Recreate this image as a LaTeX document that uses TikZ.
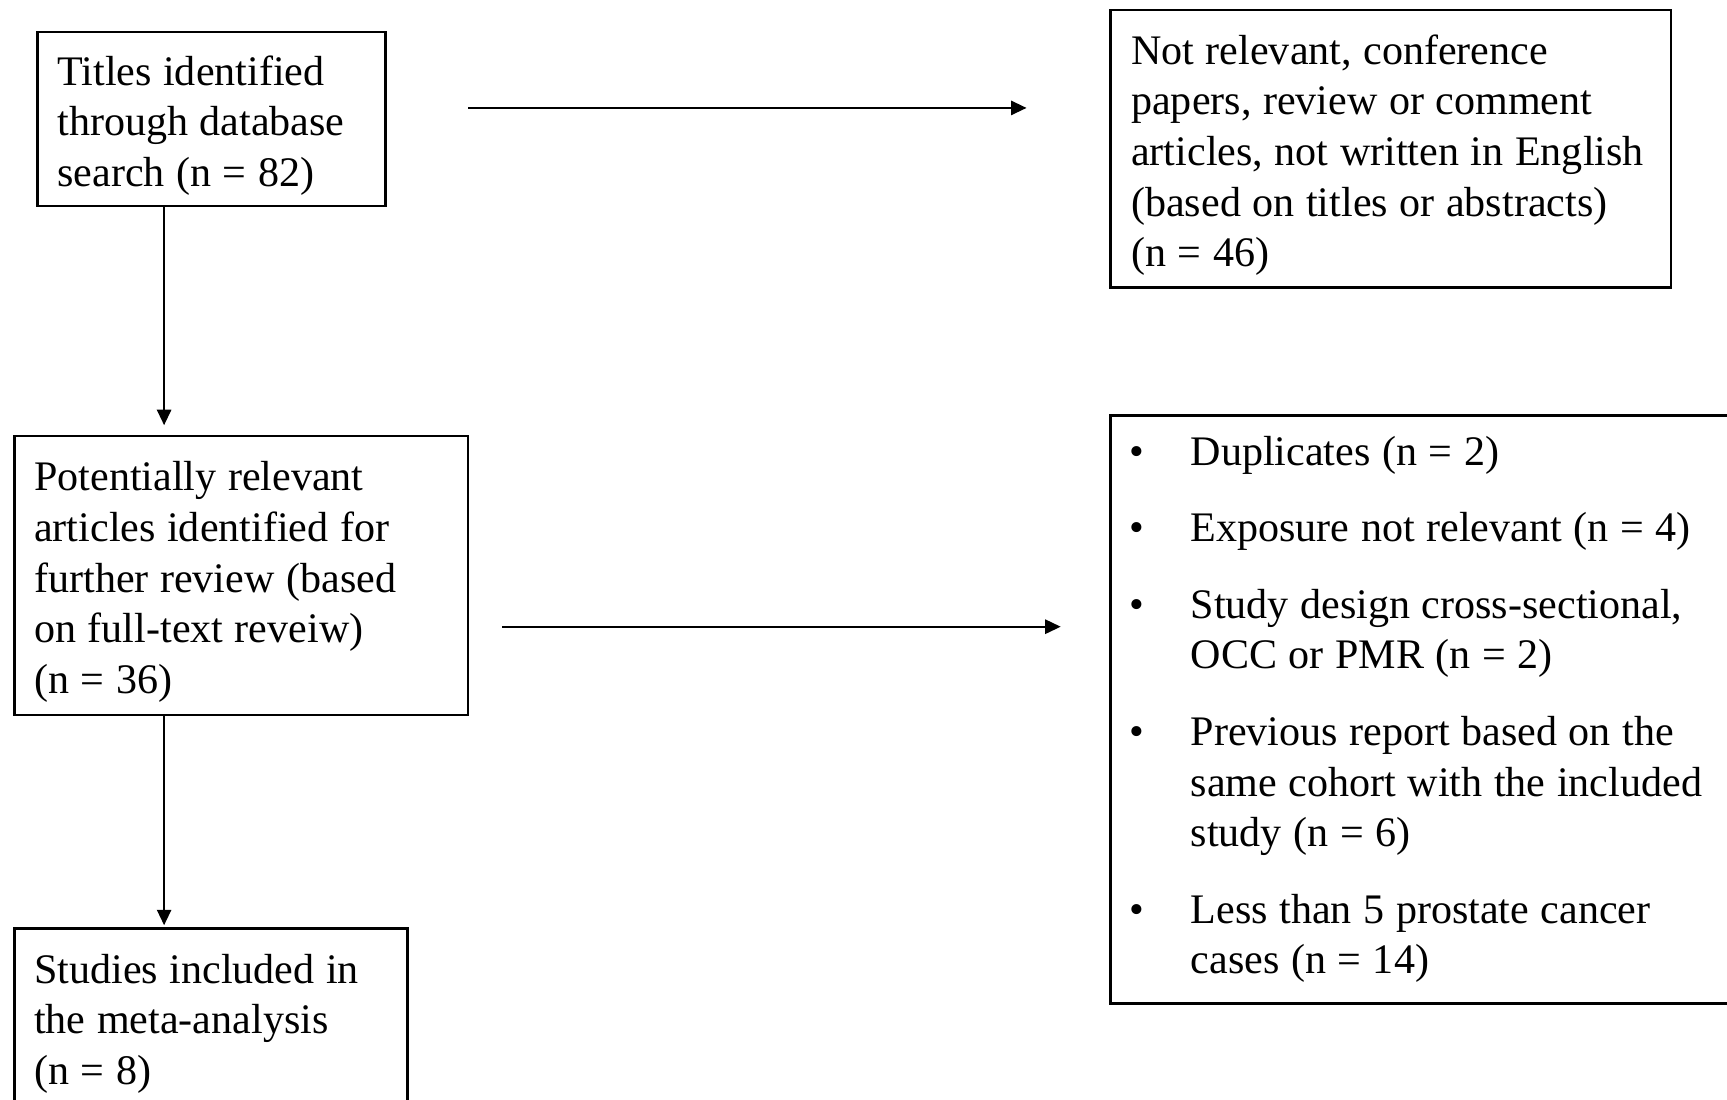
\documentclass[tikz,border=0pt]{standalone}
\usepackage{fontspec}
\setmainfont{Liberation Serif}
\usetikzlibrary{arrows.meta}

% one bulleted entry with a hanging indent for its follow-on lines
\newcommand{\flowitem}[1]{\hangindent=56pt\hangafter=1\noindent\makebox[56pt][l]{\textbullet}#1\par}
% slightly taller first line, so the text sits a little low in its box
\newcommand{\firstlinestrut}{\rule{0pt}{38.5pt}}

\begin{document}
\begin{tikzpicture}[x=1pt,y=-1pt,
  box/.style={draw, line width=2.2pt, rectangle, anchor=north west, align=left,
    inner xsep=18pt, inner ysep=0pt,
    execute at begin node={\spaceskip=10.5pt plus 2pt minus 1pt\xspaceskip=10.5pt plus 2pt minus 1pt},
    font={\fontsize{38.2}{46}\selectfont}},
  lowtext/.style={execute at begin node={\firstlinestrut}},
  arr/.style={-{Triangle[length=14pt,width=13pt]}, line width=1.5pt},
]
\useasboundingbox (0,0) rectangle (1568,998);
\clip (0,0) rectangle (1568,998);

% boxes of the flow
\node[box, lowtext, text width=280pt, minimum height=158pt] (titles) at (33,28)
  {Titles identified\\through database\\search (n = 82)};

\node[box, lowtext, inner xsep=19pt, text width=471pt, minimum height=252pt] (excluded) at (1007,8)
  {\mbox{Not relevant, conference}\\\mbox{papers, review or comment}\\\mbox{articles, not written in English}\\\mbox{(based on titles or abstracts)}\\(n = 46)};

\node[box, lowtext, text width=376pt, minimum height=253pt] (fulltext) at (12,395)
  {Potentially relevant\\\mbox{articles identified for}\\\mbox{further review (based}\\\mbox{on full-text reveiw)}\\(n = 36)};

\node[box, inner xsep=17pt, text width=549pt, minimum height=534pt] (reasons) at (1007,376)
  {\parindent=0pt
   \flowitem{Duplicates (n = 2)}\vskip 23.5pt
   \flowitem{Exposure not relevant (n = 4)}\vskip 23.5pt
   \flowitem{\mbox{Study design cross-sectional,}\newline OCC or PMR (n = 2)}\vskip 23.5pt
   \flowitem{\mbox{Previous report based on the}\newline \mbox{same cohort with the included}\newline study (n = 6)}\vskip 23.5pt
   \flowitem{\mbox{Less than 5 prostate cancer}\newline cases (n = 14)}};

\node[box, lowtext, text width=321pt, minimum height=161pt] (included) at (12,842)
  {Studies included in\\the meta-analysis\\(n = 8)};

% guide for the vertical connectors and free ends of the side arrows
\coordinate (col) at (149,0);
\coordinate (side1from) at (425,98);
\coordinate (side1to) at (932,98);
\coordinate (side2from) at (456,569);
\coordinate (side2to) at (963,569);

% connectors
\draw[arr, shorten >=9pt] (titles.south -| col) -- (fulltext.north -| col);
\draw[arr, shorten >=2pt] (fulltext.south -| col) -- (included.north -| col);
\draw[arr] (side1from) -- (side1to);
\draw[arr] (side2from) -- (side2to);
\end{tikzpicture}
\end{document}
